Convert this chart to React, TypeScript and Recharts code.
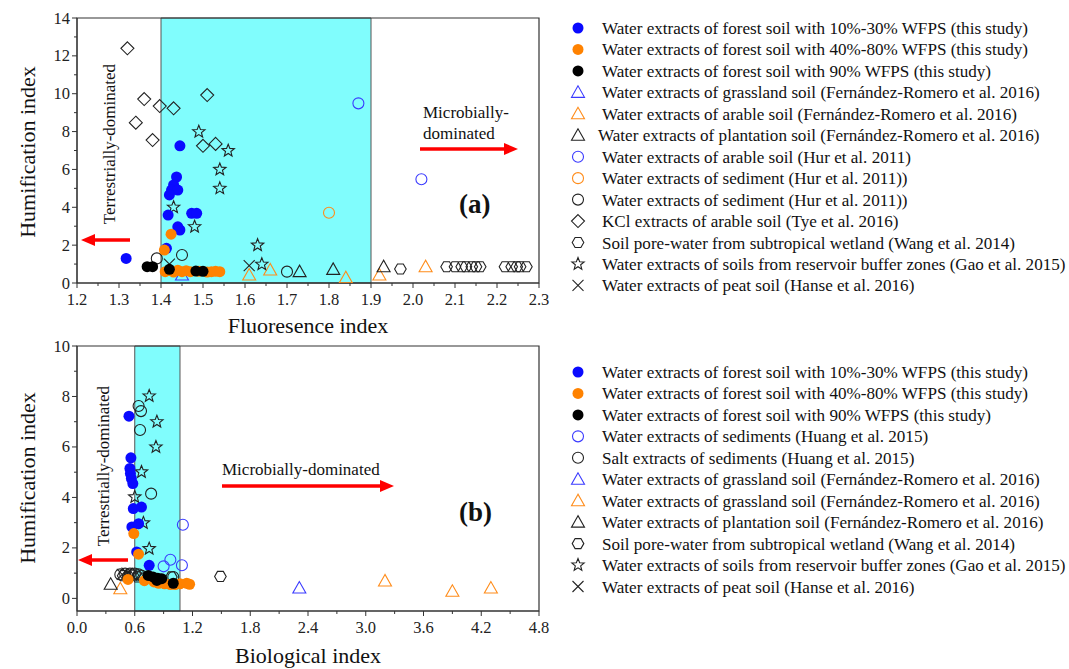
import React from 'react';
import { ScatterChart, Scatter, XAxis, YAxis, ReferenceArea } from 'recharts';

const SERIF = '"Liberation Serif", "Times New Roman", serif';
const BLUE = '#0a0aff';
const ORANGE = '#ff8200';
const BLACK = '#000';
const OPEN_BLUE = '#3a3aff';
const OPEN_ORANGE = '#ff8c1a';
const OPEN_BLACK = '#222';
const CYAN = '#80fdfd';

// ---- panel (a): fluorescence index vs humification index ----
const forestLowA = [[1.317, 1.3], [1.445, 7.25], [1.437, 5.6], [1.43, 5.18], [1.425, 4.91], [1.44, 4.91], [1.42, 4.65], [1.417, 3.59], [1.473, 3.68], [1.485, 3.68], [1.44, 2.97], [1.445, 2.8], [1.413, 1.83]];
const forestMidA = [[1.424, 2.58], [1.408, 1.74], [1.41, 0.6], [1.42, 0.66], [1.43, 0.58], [1.44, 0.68], [1.45, 0.6], [1.46, 0.65], [1.47, 0.6], [1.49, 0.62], [1.51, 0.58], [1.52, 0.6], [1.53, 0.62], [1.54, 0.6]];
const forestHighA = [[1.367, 0.86], [1.38, 0.86], [1.42, 0.72], [1.483, 0.63], [1.5, 0.62]];
const grassTriA = [[1.45, 0.42]];
const arableTriA = [[1.61, 0.42], [1.66, 0.69], [1.84, 0.28], [1.92, 0.42], [2.03, 0.86]];
const plantTriA = [[1.73, 0.6], [1.81, 0.72], [1.93, 0.86]];
const hurArableA = [[1.87, 9.49], [2.02, 5.48]];
const hurSedOrangeA = [[1.8, 3.71]];
const hurSedBlackA = [[1.39, 1.3], [1.45, 1.48], [1.7, 0.6]];
const tyeKclA = [[1.32, 12.4], [1.36, 9.72], [1.397, 9.35], [1.43, 9.23], [1.51, 9.93], [1.34, 8.47], [1.38, 7.55], [1.5, 7.25], [1.53, 7.35]];
const wangWetlandA = [[1.97, 0.74], [2.08, 0.86], [2.1, 0.86], [2.116, 0.86], [2.126, 0.86], [2.14, 0.86], [2.15, 0.86], [2.16, 0.86], [2.219, 0.86], [2.235, 0.86], [2.247, 0.86], [2.255, 0.86], [2.27, 0.86]];
const gaoBufferA = [[1.49, 7.99], [1.56, 6.99], [1.54, 6.0], [1.54, 5.0], [1.43, 4.0], [1.48, 2.97], [1.63, 2.0], [1.64, 0.99]];
const hansePeatA = [[1.61, 0.92], [1.42, 1.0]];

const xTicksA = [1.2, 1.25, 1.3, 1.35, 1.4, 1.45, 1.5, 1.55, 1.6, 1.65, 1.7, 1.75, 1.8, 1.85, 1.9, 1.95, 2.0, 2.05, 2.1, 2.15, 2.2, 2.25, 2.3];
const xMajorA = [1.2, 1.3, 1.4, 1.5, 1.6, 1.7, 1.8, 1.9, 2.0, 2.1, 2.2, 2.3];
const yTicksA = [0, 1, 2, 3, 4, 5, 6, 7, 8, 9, 10, 11, 12, 13, 14];
const yMajorA = [0, 2, 4, 6, 8, 10, 12, 14];

// ---- panel (b): biological index vs humification index ----
const forestLowB = [[0.54, 7.22], [0.56, 5.57], [0.55, 5.15], [0.555, 4.95], [0.565, 4.75], [0.58, 4.55], [0.585, 3.56], [0.67, 3.62], [0.57, 2.83], [0.64, 2.96], [0.62, 1.84], [0.75, 1.31]];
const forestMidB = [[0.59, 2.57], [0.64, 1.75], [0.53, 0.75], [0.7, 0.7], [0.8, 0.65], [0.85, 0.6], [0.91, 0.58], [0.97, 0.55], [1.02, 0.55], [1.07, 0.58], [1.14, 0.6], [1.17, 0.56]];
const forestHighB = [[0.74, 0.91], [0.79, 0.85], [0.83, 0.71], [0.88, 0.78], [1.0, 0.6], [0.84, 0.8]];
const huangWaterB = [[1.1, 2.92], [0.97, 1.53], [0.9, 1.27], [1.09, 1.31]];
const huangSaltB = [[0.64, 7.62], [0.665, 7.42], [0.655, 6.67], [0.77, 4.15], [0.45, 0.95], [0.5, 0.98], [0.55, 0.98], [0.6, 0.98], [0.64, 0.95], [0.67, 0.9], [1.0, 0.85]];
const grassBlueTriB = [[2.31, 0.41]];
const grassOrangeTriB = [[0.45, 0.38], [3.2, 0.69], [3.9, 0.28], [4.3, 0.41]];
const plantTriB = [[0.35, 0.56]];
const wangWetlandB = [[0.48, 0.9], [0.53, 0.88], [0.58, 0.92], [0.63, 0.85], [0.7, 0.8], [0.98, 0.85], [1.49, 0.87]];
const gaoBufferB = [[0.75, 8.02], [0.83, 7.0], [0.82, 6.0], [0.67, 5.01], [0.6, 4.02], [0.69, 2.99], [0.75, 1.97]];
const hansePeatB = [[0.47, 0.95], [0.52, 1.0], [0.57, 0.9]];

const xTicksB = [0, 0.3, 0.6, 0.9, 1.2, 1.5, 1.8, 2.1, 2.4, 2.7, 3.0, 3.3, 3.6, 3.9, 4.2, 4.5, 4.8];
const xMajorB = [0, 0.6, 1.2, 1.8, 2.4, 3.0, 3.6, 4.2, 4.8];
const yTicksB = [0, 1, 2, 3, 4, 5, 6, 7, 8, 9, 10];
const yMajorB = [0, 2, 4, 6, 8, 10];

type Kind = 'dot' | 'circle' | 'triangle' | 'diamond' | 'hexagon' | 'star' | 'cross';
type Series = { name: string; kind: Kind; color: string; data: number[][]; shift?: number };

const seriesA: Series[] = [
  { name: 'Water extracts of forest soil with 10%-30% WFPS (this study)', kind: 'dot', color: BLUE, data: forestLowA },
  { name: 'Water extracts of forest soil with 40%-80% WFPS (this study)', kind: 'dot', color: ORANGE, data: forestMidA },
  { name: 'Water extracts of forest soil with 90% WFPS (this study)', kind: 'dot', color: BLACK, data: forestHighA },
  { name: 'Water extracts of grassland soil (Fernández-Romero et al. 2016)', kind: 'triangle', color: OPEN_BLUE, data: grassTriA },
  { name: 'Water extracts of arable soil (Fernández-Romero et al. 2016)', kind: 'triangle', color: OPEN_ORANGE, data: arableTriA },
  { name: 'Water extracts of plantation soil (Fernández-Romero et al. 2016)', kind: 'triangle', color: OPEN_BLACK, data: plantTriA, shift: -4 },
  { name: 'Water extracts of arable soil (Hur et al. 2011)', kind: 'circle', color: OPEN_BLUE, data: hurArableA },
  { name: 'Water extracts of sediment (Hur et al. 2011))', kind: 'circle', color: OPEN_ORANGE, data: hurSedOrangeA },
  { name: 'Water extracts of sediment (Hur et al. 2011))', kind: 'circle', color: OPEN_BLACK, data: hurSedBlackA },
  { name: 'KCl extracts of arable soil (Tye et al. 2016)', kind: 'diamond', color: OPEN_BLACK, data: tyeKclA },
  { name: 'Soil pore-water from subtropical wetland (Wang et al. 2014)', kind: 'hexagon', color: OPEN_BLACK, data: wangWetlandA },
  { name: 'Water extracts of soils from reservoir buffer zones (Gao et al. 2015)', kind: 'star', color: OPEN_BLACK, data: gaoBufferA },
  { name: 'Water extracts of peat soil (Hanse et al. 2016)', kind: 'cross', color: OPEN_BLACK, data: hansePeatA },
];

const seriesB: Series[] = [
  { name: 'Water extracts of forest soil with 10%-30% WFPS (this study)', kind: 'dot', color: BLUE, data: forestLowB },
  { name: 'Water extracts of forest soil with 40%-80% WFPS (this study)', kind: 'dot', color: ORANGE, data: forestMidB },
  { name: 'Water extracts of forest soil with 90% WFPS (this study)', kind: 'dot', color: BLACK, data: forestHighB },
  { name: 'Water extracts of sediments (Huang et al. 2015)', kind: 'circle', color: OPEN_BLUE, data: huangWaterB },
  { name: 'Salt extracts of sediments (Huang et al. 2015)', kind: 'circle', color: OPEN_BLACK, data: huangSaltB },
  { name: 'Water extracts of grassland soil (Fernández-Romero et al. 2016)', kind: 'triangle', color: OPEN_BLUE, data: grassBlueTriB },
  { name: 'Water extracts of grassland soil (Fernández-Romero et al. 2016)', kind: 'triangle', color: OPEN_ORANGE, data: grassOrangeTriB },
  { name: 'Water extracts of plantation soil (Fernández-Romero et al. 2016)', kind: 'triangle', color: OPEN_BLACK, data: plantTriB },
  { name: 'Soil pore-water from subtropical wetland (Wang et al. 2014)', kind: 'hexagon', color: OPEN_BLACK, data: wangWetlandB },
  { name: 'Water extracts of soils from reservoir buffer zones (Gao et al. 2015)', kind: 'star', color: OPEN_BLACK, data: gaoBufferB },
  { name: 'Water extracts of peat soil (Hanse et al. 2016)', kind: 'cross', color: OPEN_BLACK, data: hansePeatB },
];

const Marker = ({ kind, cx, cy, color }: { kind: Kind; cx: number; cy: number; color: string }) => {
  if (cx == null || cy == null) return null;
  const sw = 1.1;
  switch (kind) {
    case 'dot':
      return <circle cx={cx} cy={cy} r={5.5} fill={color} />;
    case 'circle':
      return <circle cx={cx} cy={cy} r={5.5} fill="none" stroke={color} strokeWidth={sw} />;
    case 'triangle':
      return <polygon points={`${cx},${cy - 6.5} ${cx - 6.5},${cy + 5} ${cx + 6.5},${cy + 5}`} fill="none" stroke={color} strokeWidth={sw} />;
    case 'diamond':
      return <polygon points={`${cx},${cy - 6.5} ${cx + 6.5},${cy} ${cx},${cy + 6.5} ${cx - 6.5},${cy}`} fill="none" stroke={color} strokeWidth={sw} />;
    case 'hexagon': {
      const p = [0, 60, 120, 180, 240, 300].map((a) => {
        const r = (a * Math.PI) / 180;
        return `${cx + 5.8 * Math.cos(r)},${cy + 5.8 * Math.sin(r)}`;
      });
      return <polygon points={p.join(' ')} fill="none" stroke={color} strokeWidth={sw} />;
    }
    case 'star': {
      const p: string[] = [];
      for (let i = 0; i < 10; i++) {
        const r = i % 2 === 0 ? 6.5 : 2.8;
        const a = -Math.PI / 2 + (i * Math.PI) / 5;
        p.push(`${cx + r * Math.cos(a)},${cy + r * Math.sin(a)}`);
      }
      return <polygon points={p.join(' ')} fill="none" stroke={color} strokeWidth={sw} />;
    }
    case 'cross':
      return (
        <g stroke={color} strokeWidth={sw}>
          <line x1={cx - 5.5} y1={cy - 5.5} x2={cx + 5.5} y2={cy + 5.5} />
          <line x1={cx - 5.5} y1={cy + 5.5} x2={cx + 5.5} y2={cy - 5.5} />
        </g>
      );
  }
  return null;
};

const isIn = (list: number[], v: number) => list.some((m) => Math.abs(m - v) < 1e-6);

const makeXTick = (majors: number[]) => (props: any) => {
  const { x, y, payload } = props;
  const v = payload.value as number;
  const major = isIn(majors, v);
  return (
    <g>
      <line x1={x} x2={x} y1={y} y2={y + (major ? 5 : 3)} stroke="#333" />
      {major && (
        <text x={x} y={y + 22} textAnchor="middle" fontSize={16.5} fill="#222" fontFamily={SERIF}>
          {v.toFixed(1)}
        </text>
      )}
    </g>
  );
};

const makeYTick = (majors: number[]) => (props: any) => {
  const { x, y, payload } = props;
  const v = payload.value as number;
  const major = isIn(majors, v);
  return (
    <g>
      <line x1={x} x2={x - (major ? 5 : 3)} y1={y} y2={y} stroke="#333" />
      {major && (
        <text x={x - 7} y={y + 5.5} textAnchor="end" fontSize={16.5} fill="#222" fontFamily={SERIF}>
          {v}
        </text>
      )}
    </g>
  );
};

type PanelProps = {
  series: Series[];
  xDomain: [number, number];
  xTicks: number[];
  xMajor: number[];
  yDomain: [number, number];
  yTicks: number[];
  yMajor: number[];
  band: [number, number];
  top: number;
  marginTop: number;
};

const Panel = ({ series, xDomain, xTicks, xMajor, yDomain, yTicks, yMajor, band, top, marginTop }: PanelProps) => {
  // open symbols underneath, this study's filled dots on top
  const ordered = [...series.filter((s) => s.kind !== 'dot'), ...series.filter((s) => s.kind === 'dot')];
  return (
    <div style={{ position: 'absolute', left: 0, top }}>
      <ScatterChart width={560} height={265 + marginTop + 57} margin={{ top: marginTop, right: 21, bottom: 0, left: 27 }}>
        <XAxis
          type="number"
          dataKey="x"
          domain={xDomain}
          ticks={xTicks}
          interval={0}
          allowDataOverflow
          height={57}
          tickSize={0}
          tickMargin={0}
          tickLine={false}
          axisLine={{ stroke: '#333' }}
          tick={makeXTick(xMajor)}
        />
        <YAxis
          type="number"
          dataKey="y"
          domain={yDomain}
          ticks={yTicks}
          interval={0}
          allowDataOverflow
          width={50}
          tickSize={0}
          tickMargin={0}
          tickLine={false}
          axisLine={{ stroke: '#333' }}
          tick={makeYTick(yMajor)}
        />
        <ReferenceArea x1={band[0]} x2={band[1]} y1={yDomain[0]} y2={yDomain[1]} fill={CYAN} fillOpacity={1} stroke="#555" strokeWidth={1} />
        {ordered.map((s, i) => (
          <Scatter
            key={i}
            name={s.name}
            data={s.data.map(([x, y]) => ({ x, y }))}
            isAnimationActive={false}
            shape={(p: any) => <Marker kind={s.kind} cx={p.cx} cy={p.cy} color={s.color} />}
          />
        ))}
        <ReferenceArea x1={xDomain[0]} x2={xDomain[1]} y1={yDomain[0]} y2={yDomain[1]} fill="none" fillOpacity={0} stroke="#333" strokeWidth={1.2} />
      </ScatterChart>
    </div>
  );
};

const LegendBox = ({ series, top }: { series: Series[]; top: number }) => (
  <svg width={509} height={300} style={{ position: 'absolute', left: 560, top }}>
    {series.map((s, i) => {
      const cy = 12 + i * 21.45;
      return (
        <g key={i}>
          <Marker kind={s.kind} cx={18} cy={cy} color={s.color} />
          <text x={42 + (s.shift ?? 0)} y={cy + 6} fontSize={17.1} fontFamily={SERIF} fill="#111">
            {s.name}
          </text>
        </g>
      );
    })}
  </svg>
);

const Arrow = ({ from, to, y }: { from: number; to: number; y: number }) => {
  const dir = to > from ? 1 : -1;
  const base = to - dir * 14;
  return (
    <g>
      <line x1={from} y1={y} x2={base} y2={y} stroke="#f00" strokeWidth={3.5} />
      <polygon points={`${to},${y} ${base},${y - 6} ${base},${y + 6}`} fill="#f00" />
    </g>
  );
};

const Annotations = () => (
  <svg width={1069} height={669} style={{ position: 'absolute', left: 0, top: 0, pointerEvents: 'none' }} fontFamily={SERIF}>
    {/* axis titles */}
    <text x={0} y={0} transform="translate(35,152) rotate(-90)" textAnchor="middle" fontSize={22} fill="#111">Humification index</text>
    <text x={0} y={0} transform="translate(35,478) rotate(-90)" textAnchor="middle" fontSize={22} fill="#111">Humification index</text>
    <text x={308} y={333} textAnchor="middle" fontSize={22} fill="#111">Fluoresence index</text>
    <text x={308} y={663} textAnchor="middle" fontSize={22} fill="#111">Biological index</text>

    {/* panel (a) */}
    <text x={0} y={0} transform="translate(115,144) rotate(-90)" textAnchor="middle" fontSize={17} fill="#111">Terrestrially-dominated</text>
    <Arrow from={130} to={81} y={240} />
    <text x={423} y={118} fontSize={17} fill="#111">Microbially-</text>
    <text x={423} y={139} fontSize={17} fill="#111">dominated</text>
    <Arrow from={420} to={518} y={149} />
    <text x={459} y={213} fontSize={27} fontWeight="bold" fill="#111">(a)</text>

    {/* panel (b) */}
    <text x={0} y={0} transform="translate(109,466) rotate(-90)" textAnchor="middle" fontSize={17} fill="#111">Terrestrially-dominated</text>
    <Arrow from={128} to={78} y={560} />
    <text x={222} y={475} fontSize={17} fill="#111">Microbially-dominated</text>
    <Arrow from={222} to={394} y={486} />
    <text x={459} y={521} fontSize={27} fontWeight="bold" fill="#111">(b)</text>
  </svg>
);

export default function App() {
  return (
    <div style={{ position: 'absolute', left: 0, top: 0, width: 1069, height: 669, background: '#fff', fontFamily: SERIF }}>
      <Panel series={seriesA} xDomain={[1.2, 2.3]} xTicks={xTicksA} xMajor={xMajorA} yDomain={[0, 14]} yTicks={yTicksA} yMajor={yMajorA} band={[1.4, 1.9]} top={0} marginTop={18} />
      <Panel series={seriesB} xDomain={[0, 4.8]} xTicks={xTicksB} xMajor={xMajorB} yDomain={[-0.5, 10]} yTicks={yTicksB} yMajor={yMajorB} band={[0.6, 1.07]} top={330} marginTop={16} />
      <LegendBox series={seriesA} top={16} />
      <LegendBox series={seriesB} top={360} />
      <Annotations />
    </div>
  );
}
